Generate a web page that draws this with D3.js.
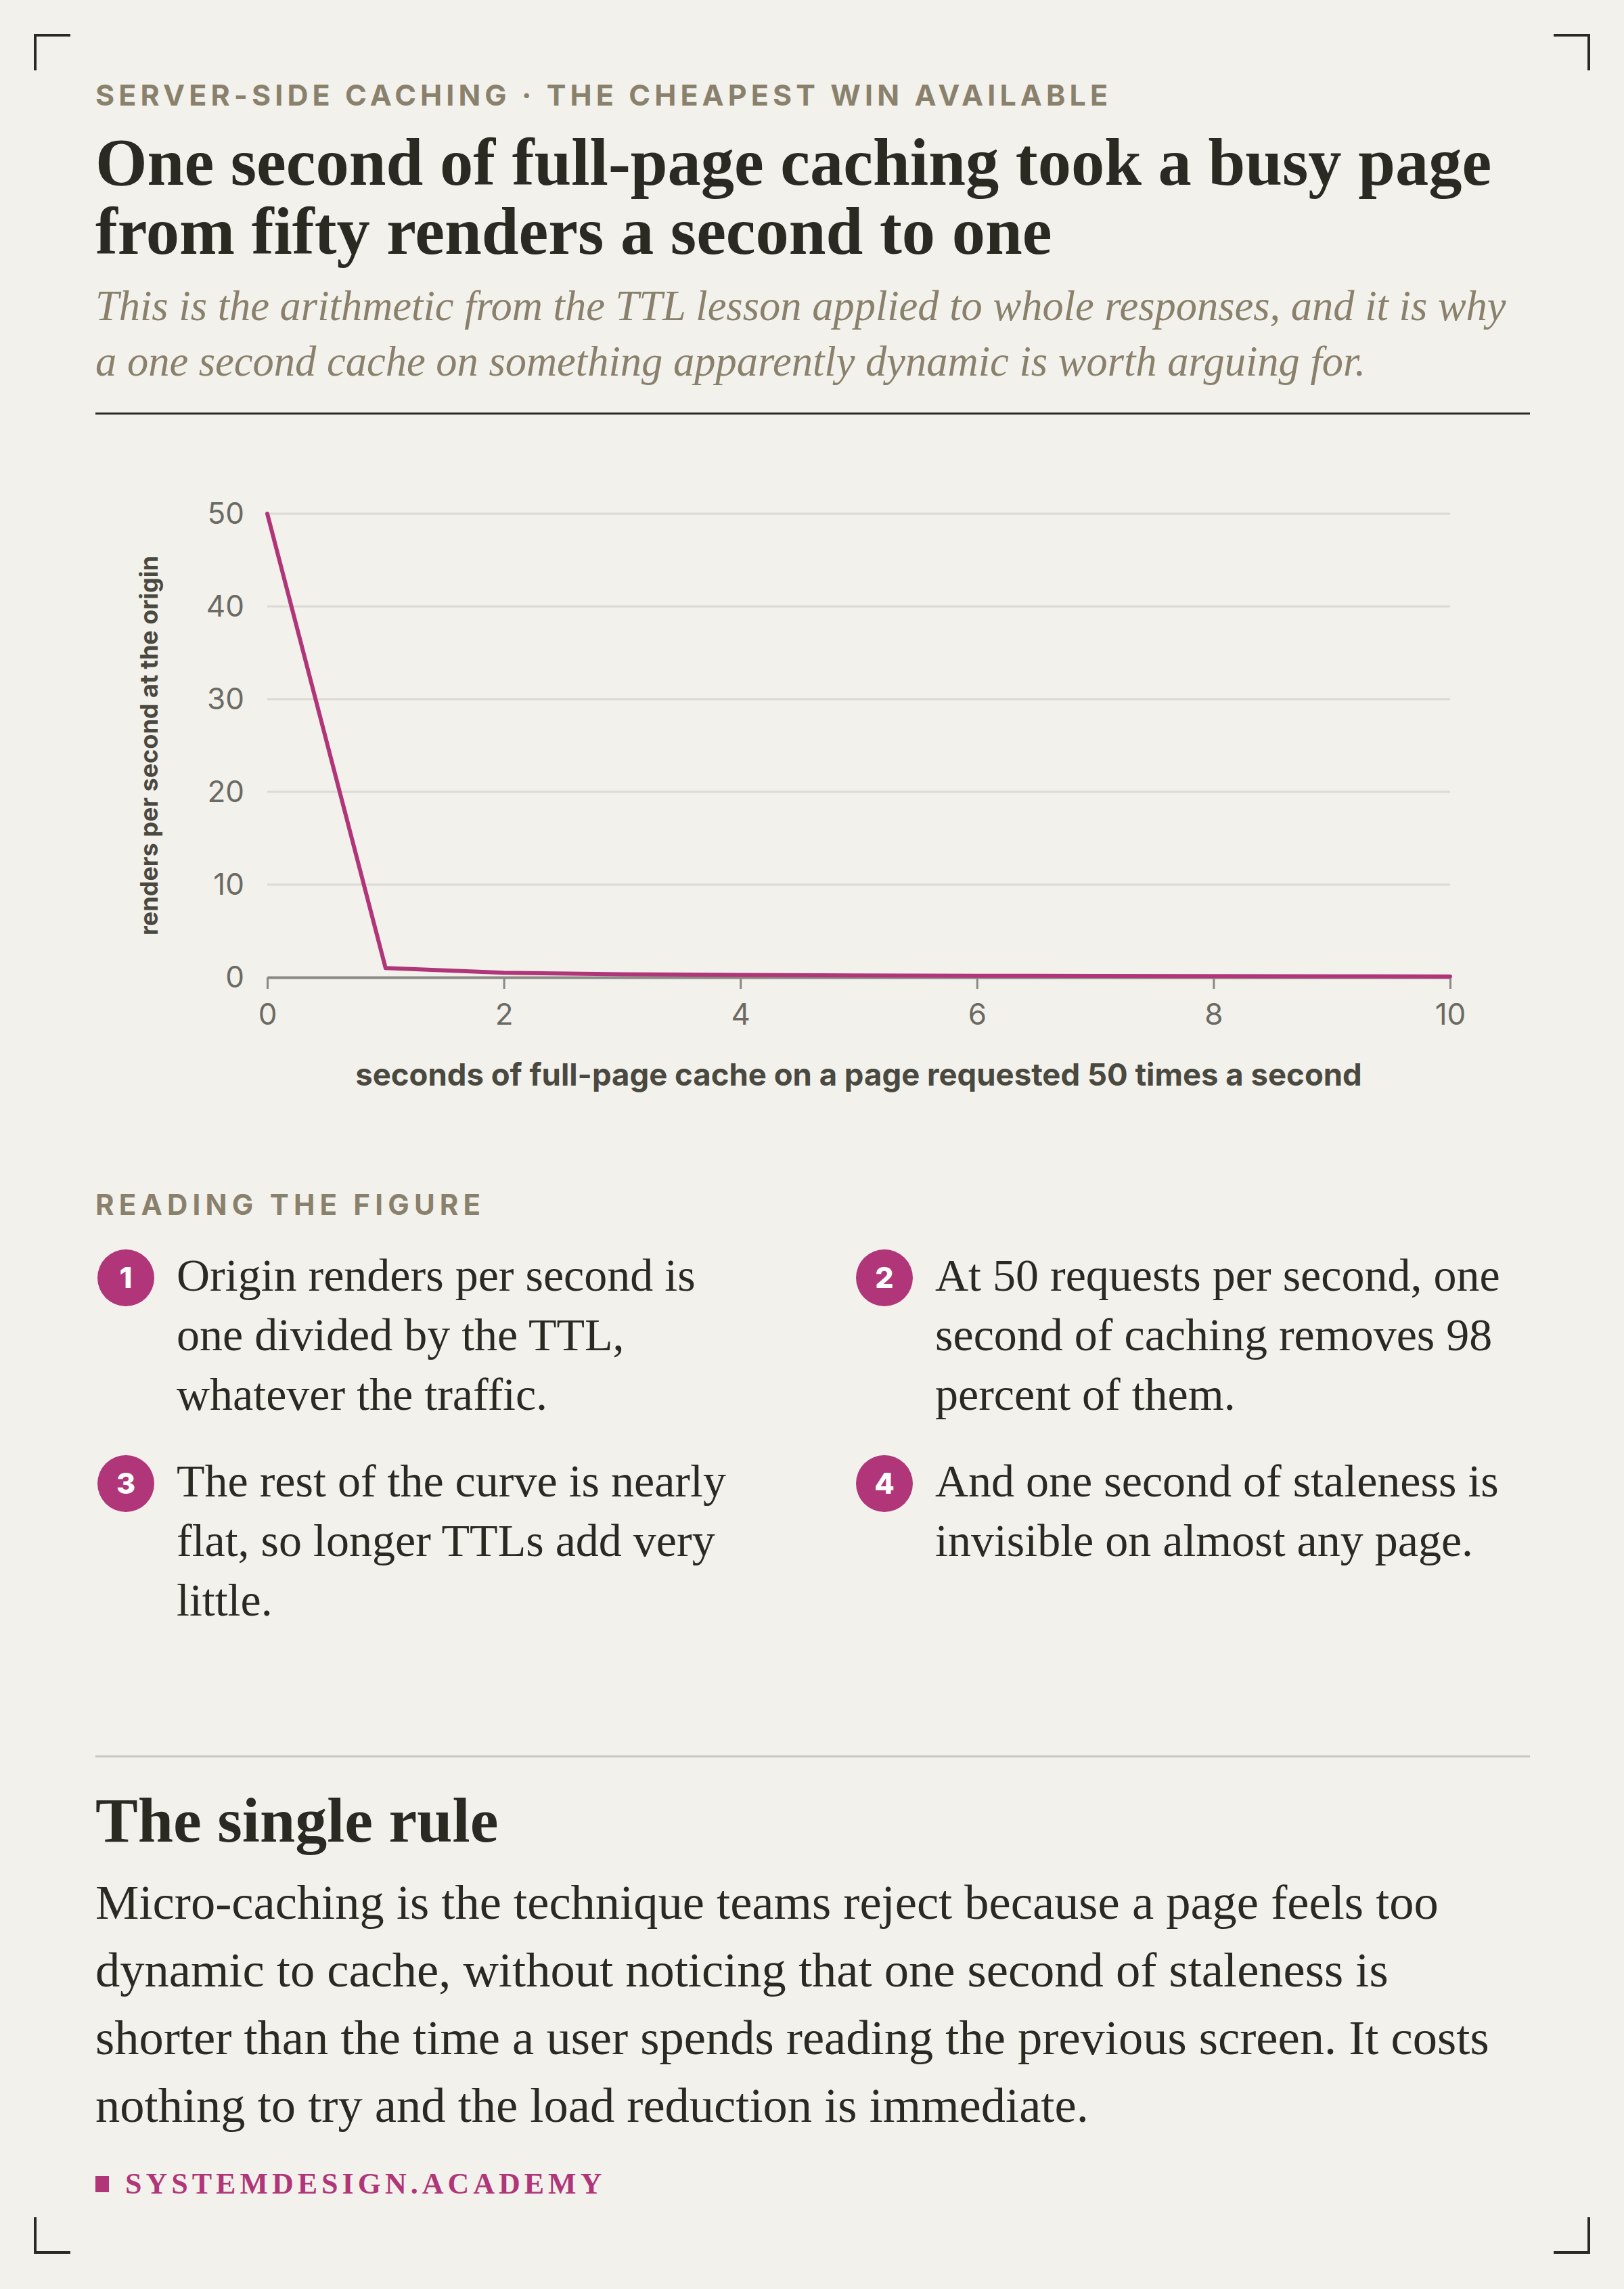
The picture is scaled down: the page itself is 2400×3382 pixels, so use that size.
<!DOCTYPE html>
<html>
<head>
<meta charset="utf-8">
<script src="https://cdn.jsdelivr.net/npm/d3@7"></script>
<style>
  html, body { margin: 0; padding: 0; background: #f2f1ec; }
  svg { display: block; }
</style>
</head>
<body>
<div id="viz"></div>
<script>
// data: origin renders per second for each TTL
const ttlSeconds = [0, 1, 2, 3, 4, 5, 6, 7, 8, 9, 10];
const rendersPerSecond = [50, 1, 0.5, 0.33, 0.25, 0.2, 0.17, 0.14, 0.125, 0.11, 0.1];
const xTicks = [0, 2, 4, 6, 8, 10];
const yTicks = [0, 10, 20, 30, 40, 50];

const kicker = "SERVER-SIDE CACHING · THE CHEAPEST WIN AVAILABLE";
const titleLines = [
  "One second of full-page caching took a busy page",
  "from fifty renders a second to one",
];
const subtitleLines = [
  "This is the arithmetic from the TTL lesson applied to whole responses, and it is why",
  "a one second cache on something apparently dynamic is worth arguing for.",
];
const yLabel = "renders per second at the origin";
const xLabel = "seconds of full-page cache on a page requested 50 times a second";
const notesHeading = "READING THE FIGURE";
const notes = [
  ["Origin renders per second is", "one divided by the TTL,", "whatever the traffic."],
  ["At 50 requests per second, one", "second of caching removes 98", "percent of them."],
  ["The rest of the curve is nearly", "flat, so longer TTLs add very", "little."],
  ["And one second of staleness is", "invisible on almost any page."],
];
const ruleHeading = "The single rule";
const ruleLines = [
  "Micro-caching is the technique teams reject because a page feels too",
  "dynamic to cache, without noticing that one second of staleness is",
  "shorter than the time a user spends reading the previous screen. It costs",
  "nothing to try and the load reduction is immediate.",
];
const footer = "SYSTEMDESIGN.ACADEMY";

const config = {
  width: 2400,
  height: 3382,
  left: 141,
  right: 2261,
  ink: "#2b2a22",
  muted: "#8a816c",
  accent: "#b03679",
  grid: "#dcdad4",
  axis: "#8a8985",
  tickText: "#6b6a63",
  labelText: "#4a4940",
  serif: "'Liberation Serif', 'DejaVu Serif', serif",
  sans: "Inter, 'Noto Sans', sans-serif",
};

const svg = d3
  .select("#viz")
  .append("svg")
  .attr("width", config.width)
  .attr("height", config.height);

svg.append("rect")
  .attr("width", config.width)
  .attr("height", config.height)
  .attr("fill", "#f2f1ec");

// corner marks
const drawCorners = () => {
  const a = 52, b = 104, c = 2348, d = 2296;
  const top = 52, topEnd = 104, bot = 3328, botEnd = 3276;
  const paths = [
    `M${a},${topEnd}V${top}H${b}`,
    `M${d},${top}H${c}V${topEnd}`,
    `M${a},${botEnd}V${bot}H${b}`,
    `M${d},${bot}H${c}V${botEnd}`,
  ];
  svg.selectAll("path.corner")
    .data(paths)
    .join("path")
    .attr("class", "corner")
    .attr("d", (p) => p)
    .attr("fill", "none")
    .attr("stroke", config.ink)
    .attr("stroke-width", 4);
};

const drawHeader = () => {
  svg.append("text")
    .attr("x", config.left)
    .attr("y", 156)
    .attr("font-family", config.sans)
    .attr("font-weight", 700)
    .attr("font-size", 43)
    .attr("letter-spacing", 6.1)
    .attr("fill", config.muted)
    .text(kicker);

  titleLines.forEach((line, i) => {
    svg.append("text")
      .attr("x", config.left)
      .attr("y", 273 + i * 102)
      .attr("font-family", config.serif)
      .attr("font-weight", 700)
      .attr("font-size", 98.5)
      .attr("fill", config.ink)
      .text(line);
  });

  subtitleLines.forEach((line, i) => {
    svg.append("text")
      .attr("x", config.left)
      .attr("y", 473 + i * 82)
      .attr("font-family", config.serif)
      .attr("font-style", "italic")
      .attr("font-size", 62.5)
      .attr("fill", config.muted)
      .text(line);
  });

  svg.append("line")
    .attr("x1", config.left)
    .attr("x2", config.right)
    .attr("y1", 611)
    .attr("y2", 611)
    .attr("stroke", config.ink)
    .attr("stroke-width", 3);
};

const drawChart = () => {
  const plot = { x0: 395, x1: 2143, y0: 1444, y1: 759 };

  const x = d3.scaleLinear().domain([0, 10]).range([plot.x0, plot.x1]);
  const y = d3.scaleLinear().domain([0, 50]).range([plot.y0, plot.y1]);

  const g = svg.append("g");

  // gridlines
  g.selectAll("line.grid")
    .data(yTicks.filter((t) => t > 0))
    .join("line")
    .attr("class", "grid")
    .attr("x1", plot.x0)
    .attr("x2", plot.x1)
    .attr("y1", (d) => y(d))
    .attr("y2", (d) => y(d))
    .attr("stroke", config.grid)
    .attr("stroke-width", 3);

  // y axis labels only
  const yAxis = g.append("g")
    .attr("transform", `translate(${plot.x0},0)`)
    .call(d3.axisLeft(y).tickValues(yTicks).tickSize(0).tickPadding(34));
  yAxis.select(".domain").remove();
  yAxis.selectAll("text")
    .attr("font-family", config.sans)
    .attr("font-size", 44)
    .attr("fill", config.tickText);

  // x axis
  const xAxis = g.append("g")
    .attr("transform", `translate(0,${plot.y0})`)
    .call(d3.axisBottom(x).tickValues(xTicks).tickSizeInner(17).tickSizeOuter(0).tickPadding(22));
  xAxis.select(".domain").attr("stroke", config.axis).attr("stroke-width", 4);
  xAxis.selectAll(".tick line").attr("stroke", config.axis).attr("stroke-width", 3);
  xAxis.selectAll("text")
    .attr("font-family", config.sans)
    .attr("font-size", 44)
    .attr("fill", config.tickText);

  // the curve
  const points = ttlSeconds.map((t, i) => [t, rendersPerSecond[i]]);
  const line = d3.line().x((d) => x(d[0])).y((d) => y(d[1]));
  g.append("path")
    .datum(points)
    .attr("d", line)
    .attr("fill", "none")
    .attr("stroke", config.accent)
    .attr("stroke-width", 6)
    .attr("stroke-linejoin", "round")
    .attr("stroke-linecap", "round");

  // axis titles
  g.append("text")
    .attr("transform", `translate(233,${(plot.y0 + plot.y1) / 2}) rotate(-90)`)
    .attr("text-anchor", "middle")
    .attr("font-family", config.sans)
    .attr("font-weight", 700)
    .attr("font-size", 36)
    .attr("fill", config.labelText)
    .text(yLabel);

  g.append("text")
    .attr("x", (plot.x0 + plot.x1) / 2)
    .attr("y", 1604)
    .attr("text-anchor", "middle")
    .attr("font-family", config.sans)
    .attr("font-weight", 700)
    .attr("font-size", 45.5)
    .attr("fill", config.labelText)
    .text(xLabel);
};

const drawNotes = () => {
  svg.append("text")
    .attr("x", config.left)
    .attr("y", 1795)
    .attr("font-family", config.sans)
    .attr("font-weight", 700)
    .attr("font-size", 42)
    .attr("letter-spacing", 7.2)
    .attr("fill", config.muted)
    .text(notesHeading);

  const colX = [186, 1307];
  const rowY = [1888, 2192];
  const lineHeight = 88;

  notes.forEach((lines, i) => {
    const cx = colX[i % 2];
    const cy = rowY[Math.floor(i / 2)];
    svg.append("circle")
      .attr("cx", cx)
      .attr("cy", cy)
      .attr("r", 42)
      .attr("fill", config.accent);
    svg.append("text")
      .attr("x", cx)
      .attr("y", cy + 15)
      .attr("text-anchor", "middle")
      .attr("font-family", config.sans)
      .attr("font-weight", 800)
      .attr("font-size", 43)
      .attr("fill", "#fff")
      .text(i + 1);

    lines.forEach((l, j) => {
      svg.append("text")
        .attr("x", cx + 75)
        .attr("y", cy + 19 + j * lineHeight)
        .attr("font-family", config.serif)
        .attr("font-size", 68)
        .attr("fill", config.ink)
        .text(l);
    });
  });
};

const drawRule = () => {
  svg.append("line")
    .attr("x1", config.left)
    .attr("x2", config.right)
    .attr("y1", 2595)
    .attr("y2", 2595)
    .attr("stroke", "#c9c7c0")
    .attr("stroke-width", 3);

  svg.append("text")
    .attr("x", config.left)
    .attr("y", 2721)
    .attr("font-family", config.serif)
    .attr("font-weight", 700)
    .attr("font-size", 94)
    .attr("fill", config.ink)
    .text(ruleHeading);

  ruleLines.forEach((l, i) => {
    svg.append("text")
      .attr("x", config.left)
      .attr("y", 2835 + i * 100)
      .attr("font-family", config.serif)
      .attr("font-size", 72.5)
      .attr("fill", config.ink)
      .text(l);
  });

  svg.append("rect")
    .attr("x", config.left)
    .attr("y", 3215)
    .attr("width", 20)
    .attr("height", 24)
    .attr("fill", config.accent);

  svg.append("text")
    .attr("x", 185)
    .attr("y", 3241)
    .attr("font-family", config.serif)
    .attr("font-weight", 700)
    .attr("font-size", 44)
    .attr("letter-spacing", 6)
    .attr("fill", config.accent)
    .text(footer);
};

drawCorners();
drawHeader();
drawChart();
drawNotes();
drawRule();
</script>
</body>
</html>
